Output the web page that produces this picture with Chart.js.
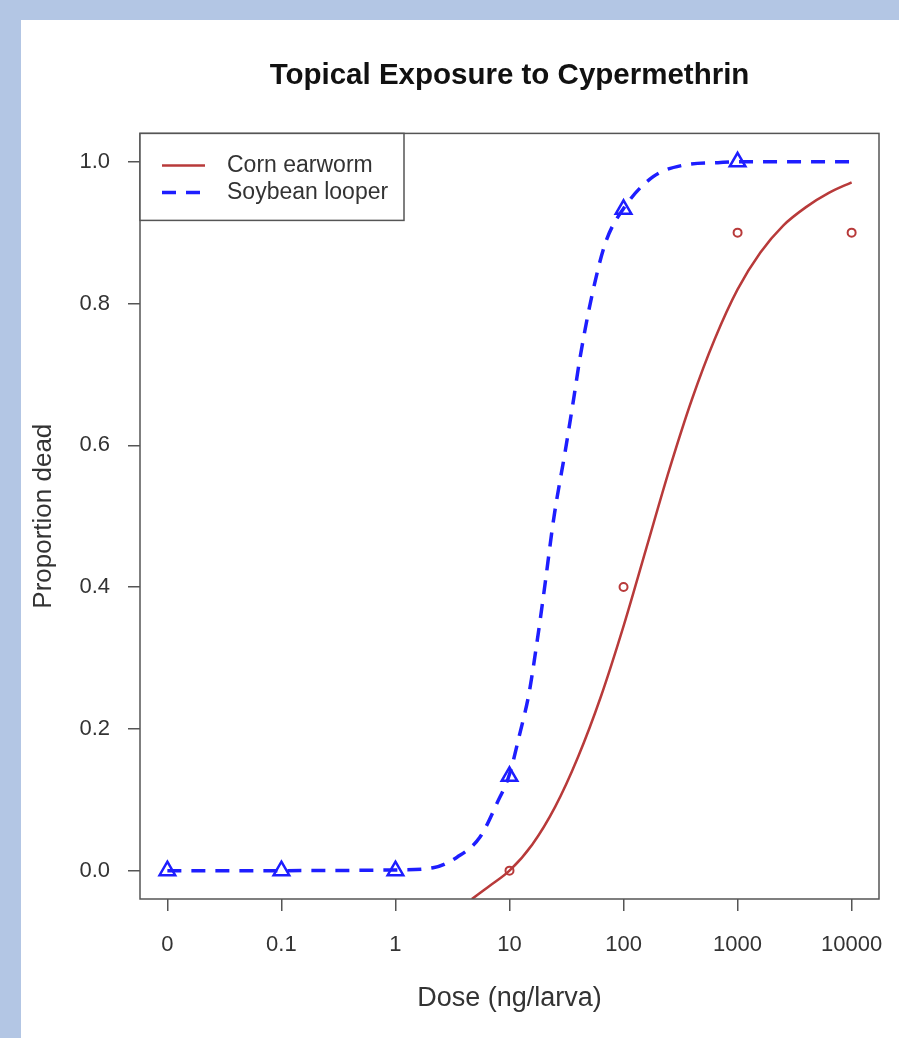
<!DOCTYPE html>
<html>
<head>
<meta charset="utf-8">
<title>Topical Exposure to Cypermethrin</title>
<script src="https://cdn.jsdelivr.net/npm/chart.js@4.4.1/dist/chart.umd.min.js"></script>
<style>
  html, body { margin: 0; padding: 0; background: #b3c6e4; }
  #panel { position: absolute; left: 21px; top: 20px; width: 878px; height: 1018px; background: #fff; }
</style>
</head>
<body>
<div id="panel"><canvas id="myChart"></canvas></div>
<script>
// tick labels / categories (x positions are 0..6 on the dose axis)
var doseLabels = ['0', '0.1', '1', '10', '100', '1000', '10000'];
var yTicks = [0, 0.2, 0.4, 0.6, 0.8, 1.0];

// observed proportions
var cornObs = [null, null, null, 0.0, 0.4, 0.9, 0.9];
var soyObs = [0, 0, 0, 0.133, 0.933, 1.0, null];

// fitted curves
var cornFitX = [2.67, 2.83, 3.0, 3.2, 3.4, 3.6, 3.8, 4.0, 4.2, 4.4, 4.6, 4.8, 5.0, 5.2, 5.4, 5.6, 5.8, 6.0];
var cornFitY = [-0.04, -0.021, 0.0, 0.037, 0.09, 0.16, 0.245, 0.345, 0.455, 0.565, 0.665, 0.75, 0.82, 0.872, 0.91, 0.936, 0.956, 0.971];
var soyFitX = [0, 1, 2, 2.33, 2.54, 2.74, 2.89, 3.0, 3.09, 3.17, 3.23, 3.30, 3.39, 3.49, 3.56, 3.62, 3.72, 3.84, 4.0, 4.26, 4.52, 4.85, 5.0, 6.0];
var soyFitY = [0, 0, 0.001, 0.004, 0.019, 0.047, 0.095, 0.136, 0.193, 0.249, 0.31, 0.39, 0.499, 0.593, 0.663, 0.725, 0.809, 0.885, 0.934, 0.979, 0.995, 0.999, 1.0, 1.0];

var red = '#b83a3a';
var blue = '#1e1eff';
var font = "'Liberation Sans', Arial, sans-serif";

function pairs(xs, ys) {
    var out = [];
    for (var i = 0; i < xs.length; i++) {
        if (ys[i] !== null) out.push({x: xs[i], y: ys[i]});
    }
    return out;
}
var idx = doseLabels.map(function(_, i){ return i; });

// box round the plot plus an R style legend in the corner
var rFrame = {
    id: 'rFrame',
    afterDatasetsDraw: function(chart) {
        var ctx = chart.ctx, a = chart.chartArea;
        ctx.save();
        ctx.strokeStyle = '#555';
        ctx.lineWidth = 1.5;
        ctx.strokeRect(a.left, a.top, a.right - a.left, a.bottom - a.top);

        ctx.fillStyle = '#fff';
        ctx.fillRect(a.left, a.top, 264, 87);
        ctx.strokeRect(a.left, a.top, 264, 87);
        var rows = [32, 59];
        for (var i = 0; i < 2; i++) {
            var ds = chart.data.datasets[i];
            var y = a.top + rows[i];
            ctx.beginPath();
            ctx.strokeStyle = ds.borderColor;
            ctx.lineWidth = ds.borderWidth;
            ctx.setLineDash(ds.borderDash || []);
            ctx.moveTo(a.left + 22, y);
            ctx.lineTo(a.left + 65, y);
            ctx.stroke();
            ctx.setLineDash([]);
            ctx.fillStyle = '#333';
            ctx.font = '23px ' + font;
            ctx.textAlign = 'left';
            ctx.textBaseline = 'middle';
            ctx.fillText(ds.label, a.left + 87, y);
        }
        ctx.restore();
    }
};

var config = {
    type: 'line',
    data: {
        datasets: [{
            label: 'Corn earworm',
            data: pairs(cornFitX, cornFitY),
            borderColor: red,
            borderWidth: 2.5,
            pointRadius: 0,
            cubicInterpolationMode: 'monotone'
        }, {
            label: 'Soybean looper',
            data: pairs(soyFitX, soyFitY),
            borderColor: blue,
            borderWidth: 3.5,
            borderDash: [14, 10],
            pointRadius: 0,
            cubicInterpolationMode: 'monotone'
        }, {
            label: 'Corn observed',
            data: pairs(idx, cornObs),
            showLine: false,
            pointStyle: 'circle',
            pointRadius: 4,
            pointBorderWidth: 2,
            pointBorderColor: red,
            pointBackgroundColor: 'rgba(0,0,0,0)'
        }, {
            label: 'Soybean observed',
            data: pairs(idx, soyObs),
            showLine: false,
            pointStyle: 'triangle',
            pointRadius: 9,
            pointBorderWidth: 2.5,
            pointBorderColor: blue,
            pointBackgroundColor: 'rgba(0,0,0,0)'
        }]
    },
    options: {
        responsive: true,
        maintainAspectRatio: false,
        animation: false,
        events: [],
        layout: { padding: { top: 0, right: 20, bottom: 0, left: 0 } },
        plugins: {
            legend: { display: false },
            tooltip: { enabled: false },
            title: {
                display: true,
                text: 'Topical Exposure to Cypermethrin',
                fullSize: false,
                color: '#111',
                font: { family: font, size: 29.5, weight: 'bold' },
                padding: { top: 38, bottom: 40 }
            }
        },
        scales: {
            x: {
                type: 'linear',
                min: -0.24,
                max: 6.24,
                afterFit: function(s){ s.height = 139; s.paddingLeft = 0; s.paddingRight = 0; },
                afterBuildTicks: function(s){ s.ticks = idx.map(function(v){ return {value: v}; }); },
                border: { display: false },
                grid: { drawOnChartArea: false, drawTicks: true, tickLength: 12, color: '#555', lineWidth: 1.5 },
                ticks: {
                    padding: 21,
                    color: '#333',
                    font: { family: font, size: 22 },
                    maxRotation: 0,
                    callback: function(v){ return doseLabels[v]; }
                },
                title: {
                    display: true,
                    text: 'Dose (ng/larva)',
                    color: '#333',
                    font: { family: font, size: 27 },
                    padding: { top: 0, bottom: 23 }
                }
            },
            y: {
                type: 'linear',
                min: -0.04,
                max: 1.04,
                afterFit: function(s){ s.width = 119; },
                afterBuildTicks: function(s){ s.ticks = yTicks.map(function(v){ return {value: v}; }); },
                border: { display: false },
                grid: { drawOnChartArea: false, drawTicks: true, tickLength: 12, color: '#555', lineWidth: 1.5 },
                ticks: {
                    padding: 18,
                    color: '#333',
                    font: { family: font, size: 22 },
                    callback: function(v){ return v.toFixed(1); }
                },
                title: {
                    display: true,
                    text: 'Proportion dead',
                    color: '#333',
                    font: { family: font, size: 26 },
                    padding: { top: 7, bottom: 0 }
                }
            }
        }
    },
    plugins: [rFrame]
};

var myChart = new Chart(document.getElementById('myChart'), config);
</script>
</body>
</html>
